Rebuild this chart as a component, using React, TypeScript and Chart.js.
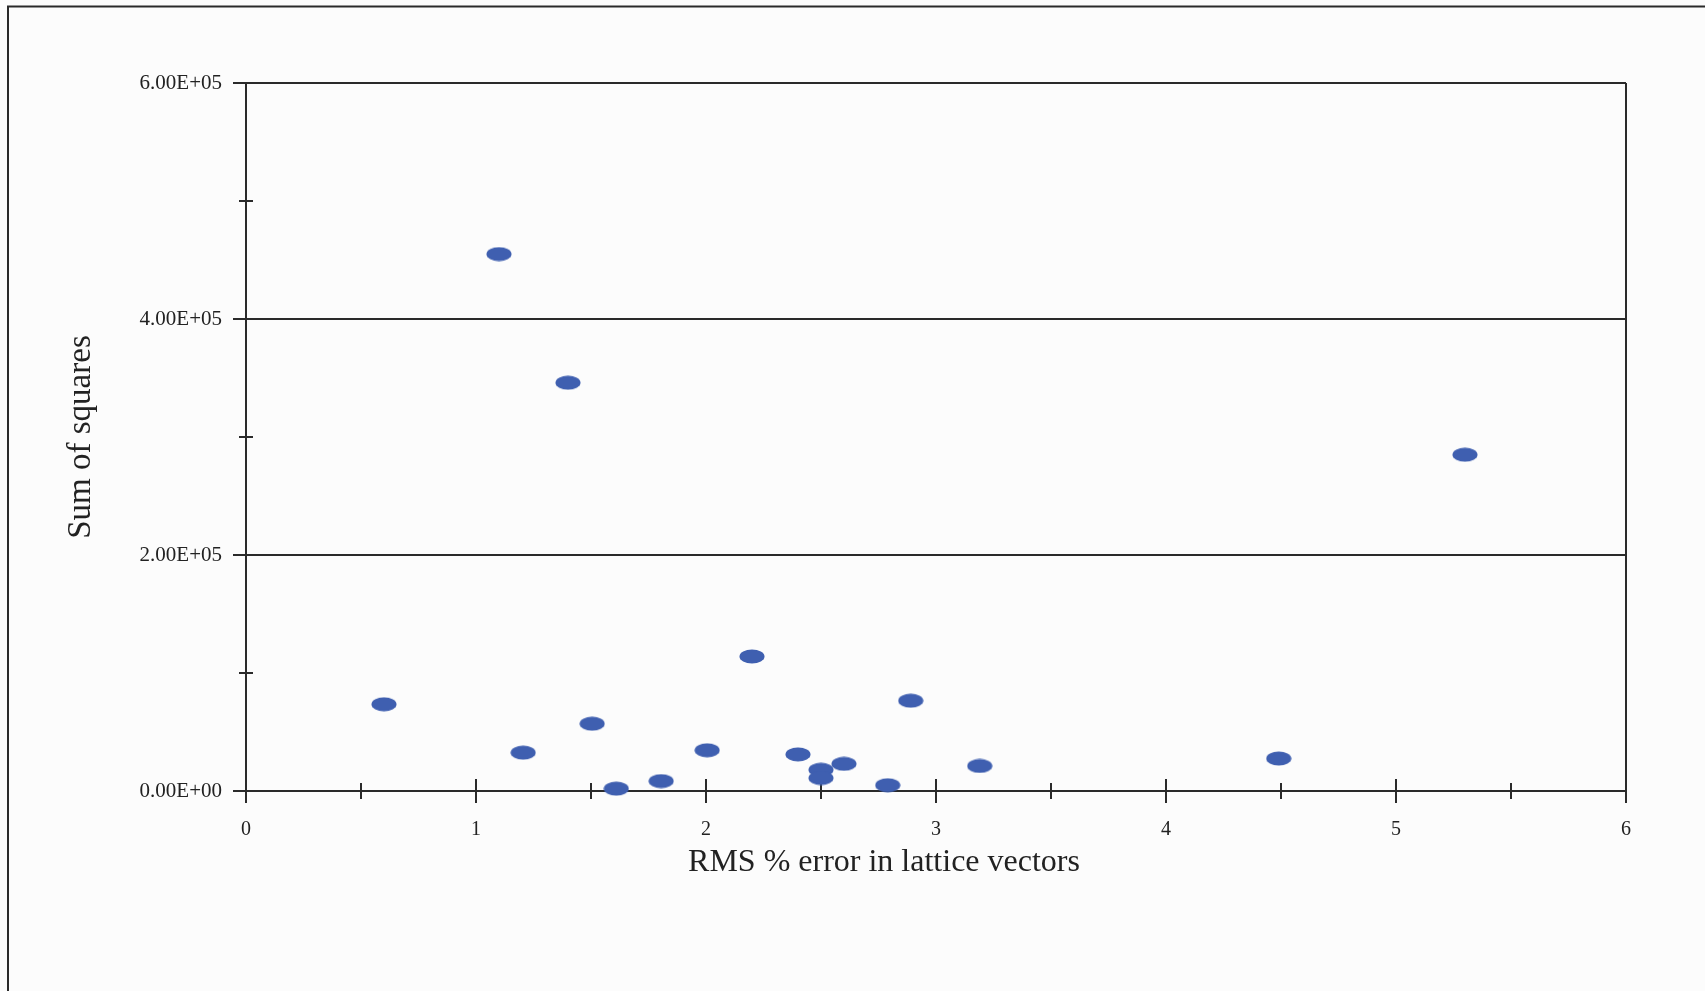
import React, { useEffect, useRef } from "react";
import { Chart, registerables } from "chart.js";

Chart.register(...registerables);

// Data
const xValues = [1.1, 1.4, 5.3, 0.6, 2.2, 2.89, 1.505, 1.205, 2.005, 2.4, 2.6, 2.5, 2.5, 3.19, 4.49, 1.61, 1.805, 2.79];
const yValues = [455000, 346000, 285000, 73500, 114000, 76500, 57000, 32500, 34500, 31000, 23000, 18000, 11000, 21200, 27500, 2000, 8400, 4900];

const xTickLabels = ["0", "1", "2", "3", "4", "5", "6"];
const yTickLabels = ["0.00E+00", "2.00E+05", "4.00E+05", "6.00E+05"];
const yMinorTicks = [100000, 300000, 500000];
const xMinorTicks = [0.5, 1.5, 2.5, 3.5, 4.5, 5.5];

const xTitle = "RMS % error in lattice vectors";
const yTitle = "Sum of squares";

const LINE = "#2a2a2a";
const TEXT = "#222222";
const POINT = "#3f5fb0";
const FONT = "'Liberation Serif', 'DejaVu Serif', serif";

function makeEllipse(): HTMLCanvasElement {
  const c = document.createElement("canvas");
  c.width = 26;
  c.height = 15;
  const g = c.getContext("2d")!;
  g.fillStyle = POINT;
  g.beginPath();
  g.ellipse(13, 7.5, 12.5, 7, 0, 0, Math.PI * 2);
  g.fill();
  return c;
}

const decorPlugin = {
  id: "decor",
  beforeDraw(chart: any) {
    const ctx = chart.ctx;
    ctx.save();
    ctx.fillStyle = "#fcfcfc";
    ctx.fillRect(0, 0, chart.width, chart.height);
    // outer frame (top and left edges visible)
    ctx.strokeStyle = LINE;
    ctx.lineWidth = 2;
    ctx.beginPath();
    ctx.moveTo(8, chart.height);
    ctx.lineTo(8, 6.5);
    ctx.lineTo(chart.width, 6.5);
    ctx.stroke();
    ctx.restore();
  },
  beforeDatasetsDraw(chart: any) {
    const ctx = chart.ctx;
    const xs = chart.scales.x;
    const ys = chart.scales.y;
    const area = chart.chartArea;
    ctx.save();
    ctx.strokeStyle = LINE;
    ctx.lineWidth = 2;
    ctx.beginPath();
    // y major ticks (outward)
    for (let i = 0; i < yTickLabels.length; i++) {
      const py = ys.getPixelForValue(i * 200000);
      ctx.moveTo(area.left - 13, py);
      ctx.lineTo(area.left, py);
    }
    // y minor ticks (crossing)
    for (const v of yMinorTicks) {
      const py = ys.getPixelForValue(v);
      ctx.moveTo(area.left - 7, py);
      ctx.lineTo(area.left + 7, py);
    }
    // x major ticks (crossing)
    for (let i = 0; i < xTickLabels.length; i++) {
      const px = xs.getPixelForValue(i);
      ctx.moveTo(px, i === 0 ? area.bottom : area.bottom - 12);
      ctx.lineTo(px, area.bottom + 12);
    }
    // x minor ticks
    for (const v of xMinorTicks) {
      const px = xs.getPixelForValue(v);
      ctx.moveTo(px, area.bottom - 8);
      ctx.lineTo(px, area.bottom + 8);
    }
    ctx.stroke();

    // axis titles
    ctx.fillStyle = TEXT;
    ctx.font = `32px ${FONT}`;
    ctx.textAlign = "center";
    ctx.textBaseline = "alphabetic";
    ctx.fillText(xTitle, 884, 871);
    ctx.translate(90, (area.top + area.bottom) / 2);
    ctx.rotate(-Math.PI / 2);
    ctx.font = `33px ${FONT}`;
    ctx.fillText(yTitle, 0, 0);
    ctx.restore();
  },
};

export default function App() {
  const ref = useRef<HTMLCanvasElement | null>(null);

  useEffect(() => {
    document.body.style.margin = "0";
    const canvas = ref.current!;
    const points = xValues.map((x, i) => ({ x, y: yValues[i] }));
    const chart = new Chart(canvas, {
      type: "scatter",
      data: {
        datasets: [
          {
            data: points,
            pointStyle: makeEllipse() as any,
            pointRadius: 7,
            backgroundColor: POINT,
            borderColor: POINT,
            clip: false as any,
          },
        ],
      },
      options: {
        responsive: false,
        maintainAspectRatio: false,
        animation: false,
        events: [],
        layout: { padding: { top: 83, right: 79, left: 0, bottom: 0 } },
        plugins: {
          legend: { display: false },
          tooltip: { enabled: false },
          title: { display: false },
        },
        scales: {
          x: {
            type: "linear",
            min: 0,
            max: 6,
            afterFit: (s: any) => {
              s.height = 200;
            },
            ticks: {
              stepSize: 1,
              padding: 27,
              color: TEXT,
              font: { family: FONT, size: 20 },
              callback: (_v: any, i: number) => xTickLabels[i],
            },
            grid: {
              drawTicks: false,
              lineWidth: 2,
              color: (c: any) => (c.tick && c.tick.value === 6 ? LINE : "rgba(0,0,0,0)"),
            },
            border: { display: true, color: LINE, width: 2 },
          },
          y: {
            type: "linear",
            min: 0,
            max: 600000,
            afterFit: (s: any) => {
              s.width = 246;
            },
            ticks: {
              stepSize: 200000,
              padding: 24,
              color: TEXT,
              font: { family: FONT, size: 21 },
              callback: (_v: any, i: number) => yTickLabels[i],
            },
            grid: {
              drawTicks: false,
              lineWidth: 2,
              color: LINE,
            },
            border: { display: true, color: LINE, width: 2 },
          },
        },
      },
      plugins: [decorPlugin],
    });
    return () => chart.destroy();
  }, []);

  return (
    <div style={{ position: "absolute", left: 0, top: 0, width: 1705, height: 991 }}>
      <canvas ref={ref} width={1705} height={991} style={{ width: 1705, height: 991, display: "block" }} />
    </div>
  );
}
